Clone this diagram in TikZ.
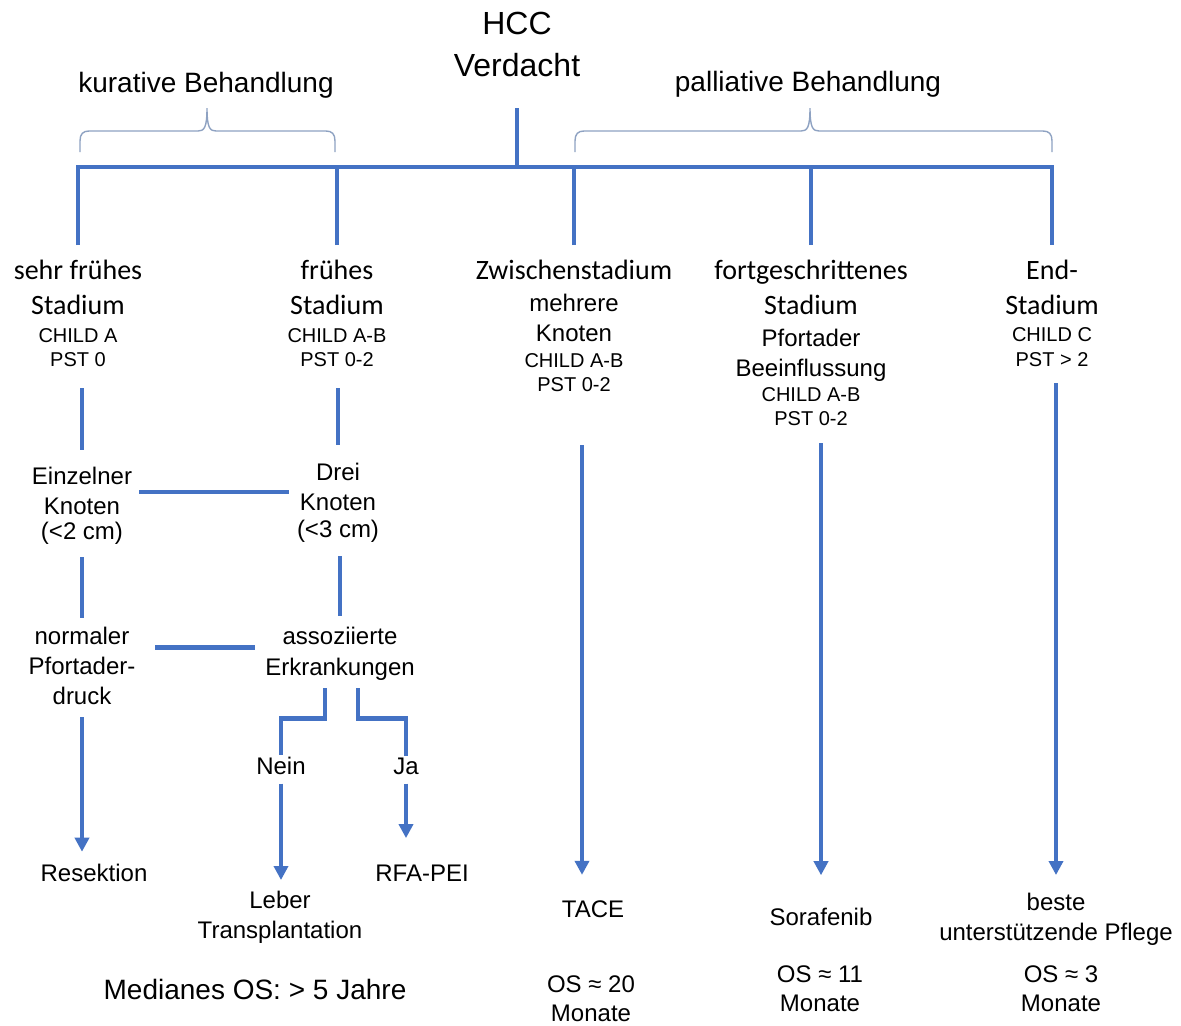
\documentclass[tikz,border=0pt]{standalone}
\usepackage{fontspec}
\setmainfont{Liberation Sans}
\newfontfamily\calfont{Carlito}
\usetikzlibrary{arrows.meta,positioning}
\definecolor{flowblue}{HTML}{4472C4}
\definecolor{bracegray}{HTML}{8EA2C2}
\newcommand{\ttl}[1]{{\calfont\fontsize{14}{12}\selectfont #1}}
\newcommand{\sml}[1]{{\fontsize{10}{12}\selectfont #1}}
\newcommand{\tightlines}{\setlength{\lineskiplimit}{-20pt}\setlength{\lineskip}{0pt}}

\begin{document}
\begin{tikzpicture}[
    x=0.5pt, y=-0.5pt,
    bar/.style={draw=flowblue, line width=2.4pt},
    arrow/.style={bar, -{Triangle[length=7pt, width=7pt]}},
    txt/.style={inner sep=0pt, align=center, font=\fontsize{12}{12}\selectfont\tightlines},
    stage/.style={txt, anchor=north},
    single/.style={txt, anchor=base},
    head/.style={inner sep=0pt, font=\fontsize{14}{14}\selectfont, anchor=base},
    brace/.style={draw=bracegray, line width=0.7pt}
]
\path[use as bounding box, fill=white] (0,0) rectangle (1181,1025);

\node[inner sep=0pt, align=center, anchor=north, font=\fontsize{16}{21}\selectfont] (hcc) at (517,12) {HCC\\Verdacht};
\node[head] (kur) at (206,92) {kurative Behandlung};
\node[head] (pal) at (808,91) {palliative Behandlung};

% Klammern
\draw[brace] (80,152) -- (80,141) .. controls (80,134) and (83,131) .. (89,131) -- (198,131)
    .. controls (204,131) and (207,128) .. (207,108) .. controls (207,128) and (210,131) .. (216,131)
    -- (326,131) .. controls (332,131) and (335,134) .. (335,141) -- (335,152);
\draw[brace] (575,152) -- (575,141) .. controls (575,134) and (578,131) .. (584,131) -- (801,131)
    .. controls (807,131) and (810,128) .. (810,108) .. controls (810,128) and (813,131) .. (819,131)
    -- (1043,131) .. controls (1049,131) and (1052,134) .. (1052,141) -- (1052,152);

% Stadien
\node[stage] (sfs) at (78,260) {\ttl{sehr frühes}\\[5.5pt]\ttl{Stadium}\\[2pt]\sml{CHILD A}\\\sml{PST 0}};
\node[stage] (fs) at (337,260) {\ttl{frühes}\\[5.5pt]\ttl{Stadium}\\[2pt]\sml{CHILD A-B}\\\sml{PST 0-2}};
\node[stage] (zs) at (574,260) {\ttl{Zwischenstadium}\\[4pt]mehrere\\[3pt]Knoten\\[1pt]\sml{CHILD A-B}\\\sml{PST 0-2}};
\node[stage] (fts) at (811,260) {\ttl{fortgeschrittenes}\\[5.5pt]\ttl{Stadium}\\[4pt]Pfortader\\[3pt]Beeinflussung\\[0.5pt]\sml{CHILD A-B}\\\sml{PST 0-2}};
\node[stage] (es) at (1052,260) {\ttl{End-}\\[5.5pt]\ttl{Stadium}\\[1.5pt]\sml{CHILD C}\\[0.5pt]\sml{PST > 2}};

% Kriterien
\node[stage] (einz) at (82,467) {Einzelner\\[3pt]Knoten\\[0.5pt](<2 cm)};
\node[stage] (drei) at (338,463) {Drei\\[3pt]Knoten\\[1.5pt](<3 cm)};
\node[stage] (norm) at (82,627) {normaler\\[3pt]Pfortader-\\[3pt]druck};
\node[stage] (assoz) at (340,627) {assoziierte\\[3.5pt]Erkrankungen};
\node[single] (nein) at (281,774) {Nein};
\node[single] (ja) at (406,774) {Ja};

% Behandlung
\node[single] (res) at (94,881) {Resektion};
\node[stage] (leber) at (280,891) {Leber\\[2.8pt]Transplantation};
\node[single] (rfa) at (422,881) {RFA-PEI};
\node[single] (tace) at (593,917) {TACE};
\node[single] (sora) at (821,925) {Sorafenib};
\node[stage] (beste) at (1056,893) {beste\\[3pt]unterstützende Pflege};

% Ueberleben
\node[head] (med) at (255,999) {Medianes OS: > 5 Jahre};
\node[stage] (os20) at (591,975) {OS ≈ 20\\[2.5pt]Monate};
\node[stage] (os11) at (820,965) {OS ≈ 11\\[2.5pt]Monate};
\node[stage] (os3) at (1061,965) {OS ≈ 3\\[2.5pt]Monate};

% Baum
\coordinate (spine) at (0,167);
\draw[bar, shorten <=15.5pt] (hcc.south) -- (hcc.south |- spine);
\draw[bar, shorten <=7.5pt, shorten >=7.5pt] (sfs.north) -- (sfs.north |- spine) -- (es.north |- spine) -- (es.north);
\foreach \n in {fs,zs,fts}
    \draw[bar, shorten <=7.5pt] (\n.north) -- (\n.north |- spine);

\draw[bar, shorten <=10.5pt, shorten >=8.5pt] (einz.north |- sfs.south) -- (einz.north);
\draw[bar, shorten <=10.5pt, shorten >=9pt] (drei.north |- fs.south) -- (drei.north);
\draw[bar, shorten <=3.5pt, shorten >=4pt] ([yshift=7pt]einz.east) -- ([yshift=7pt]einz.east -| drei.west);
\draw[bar, shorten <=6pt, shorten >=4.5pt] (einz.south) -- (norm.north);
\draw[bar, shorten <=6.5pt, shorten >=5.5pt] (assoz.north |- drei.south) -- (assoz.north);
\draw[bar, shorten <=9.8pt, shorten >=5pt] ([yshift=9.5pt]norm.east) -- ([yshift=9.5pt]norm.east -| assoz.west);

\draw[bar, shorten <=3.5pt, shorten >=0.75pt] ([xshift=-7.5pt]assoz.south) -- ++(0,37) -| (nein.north);
\draw[bar, shorten <=3.5pt, shorten >=0.75pt] ([xshift=9pt]assoz.south) -- ++(0,37) -| (ja.north);

\draw[arrow, shorten <=6pt, shorten >=5.75pt] (norm.south) -- (norm.south |- res.north);
\draw[arrow, shorten <=4.5pt, shorten >=5.5pt] (nein.south) -- (nein.south |- leber.north);
\draw[arrow, shorten <=4.5pt, shorten >=13pt] (ja.south) -- (ja.south |- rfa.north);
\draw[arrow, shorten <=26.5pt, shorten >=12.5pt] ([xshift=4pt]zs.south) -- ([xshift=4pt]zs.south |- tace.north);
\draw[arrow, shorten <=8.5pt, shorten >=16pt] (fts.south -| sora.north) -- (sora.north);
\draw[arrow, shorten <=8pt, shorten >=9pt] (es.south -| beste.north) -- (beste.north);
\end{tikzpicture}
\end{document}
